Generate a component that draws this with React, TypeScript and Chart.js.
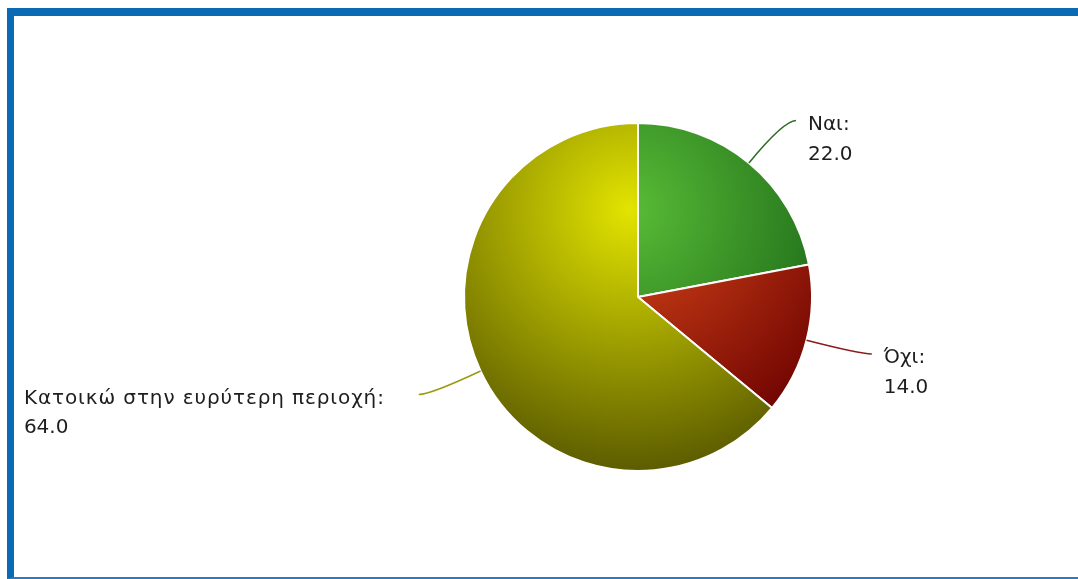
import React, { useEffect, useRef } from "react";
import { Chart, registerables } from "chart.js";

Chart.register(...registerables);

const labels: string[] = ["Ναι", "Όχι", "Κατοικώ στην ευρύτερη περιοχή"];
const values: number[] = [22.0, 14.0, 64.0];
const innerColors: string[] = ["#58bc36", "#dc4a1a", "#e2e400"];
const outerColors: string[] = ["#145c14", "#6a0000", "#5c5c00"];
const lineColors: string[] = ["#2f6e24", "#8a1c1c", "#9a9a12"];

const FONT = "20px 'DejaVu Sans', Verdana, sans-serif";

const labelPlugin = {
  id: "pieLabels",
  afterDatasetsDraw(chart: any) {
    const ctx = chart.ctx;
    const meta = chart.getDatasetMeta(0);
    ctx.save();
    ctx.font = FONT;
    ctx.textBaseline = "middle";
    meta.data.forEach((arc: any, i: number) => {
      const { x, y, startAngle, endAngle, outerRadius } = arc.getProps(
        ["x", "y", "startAngle", "endAngle", "outerRadius"],
        true
      );
      const mid = (startAngle + endAngle) / 2;
      const dx = Math.cos(mid);
      const dy = Math.sin(mid);
      const side = dx >= 0 ? 1 : -1;
      const p0x = x + dx * outerRadius;
      const p0y = y + dy * outerRadius;
      const ex = x + dx * (outerRadius + 55);
      const ey = y + dy * (outerRadius + 55);
      const endX = ex + side * 12;
      const endY = ey;
      ctx.strokeStyle = lineColors[i];
      ctx.lineWidth = 1.6;
      ctx.beginPath();
      ctx.moveTo(p0x, p0y);
      ctx.quadraticCurveTo(ex, ey, endX, endY);
      ctx.stroke();

      const line1 = labels[i] + ":";
      const line2 = values[i].toFixed(1);
      ctx.fillStyle = "#1e1e1e";
      ctx.textAlign = "left";
      let tx: number;
      if (side > 0) {
        tx = endX + 12;
        ctx.fillText(line1, tx, endY + 4);
        ctx.fillText(line2, tx, endY + 34);
      } else {
        ctx.letterSpacing = "0.9px";
        const w = ctx.measureText(line1).width;
        tx = endX - 34 - w;
        ctx.fillText(line1, tx, endY + 4);
        ctx.letterSpacing = "0px";
        ctx.fillText(line2, tx, endY + 33);
      }
    });
    ctx.restore();
  },
};

export default function App() {
  const canvasRef = useRef<HTMLCanvasElement | null>(null);

  useEffect(() => {
    if (!canvasRef.current) return;
    const chart = new Chart(canvasRef.current, {
      type: "pie",
      data: {
        labels,
        datasets: [
          {
            data: values,
            borderColor: "#ffffff",
            borderWidth: 2,
            hoverOffset: 0,
            backgroundColor: (c: any) => {
              const ch = c.chart;
              const area = ch.chartArea;
              const i = c.dataIndex;
              if (!area) return innerColors[i];
              const cx = (area.left + area.right) / 2;
              const cy = (area.top + area.bottom) / 2;
              const r = Math.min(area.right - area.left, area.bottom - area.top) / 2;
              const g = ch.ctx.createRadialGradient(
                cx - 0.05 * r,
                cy - 0.5 * r,
                0,
                cx - 0.05 * r,
                cy - 0.5 * r,
                1.5 * r
              );
              g.addColorStop(0, innerColors[i]);
              g.addColorStop(1, outerColors[i]);
              return g;
            },
          },
        ],
      },
      options: {
        animation: false,
        responsive: false,
        maintainAspectRatio: false,
        layout: { padding: { top: 122, bottom: 107, left: 200, right: 2 } },
        plugins: {
          legend: { display: false },
          tooltip: { enabled: false },
        },
      },
      plugins: [labelPlugin],
    });
    return () => chart.destroy();
  }, []);

  return (
    <div style={{ position: "fixed", left: 0, top: 0, width: 1078, height: 579, background: "#ffffff" }}>
      <div
        style={{
          position: "absolute",
          left: 7,
          top: 8,
          width: 1071,
          height: 571,
          boxSizing: "border-box",
          borderTop: "8px solid #0b6ab4",
          borderLeft: "7px solid #0b6ab4",
          borderBottom: "2px solid #2a7bc2",
        }}
      />
      <canvas
        ref={canvasRef}
        width={1078}
        height={579}
        style={{ position: "absolute", left: 0, top: 0, width: 1078, height: 579 }}
      />
    </div>
  );
}
